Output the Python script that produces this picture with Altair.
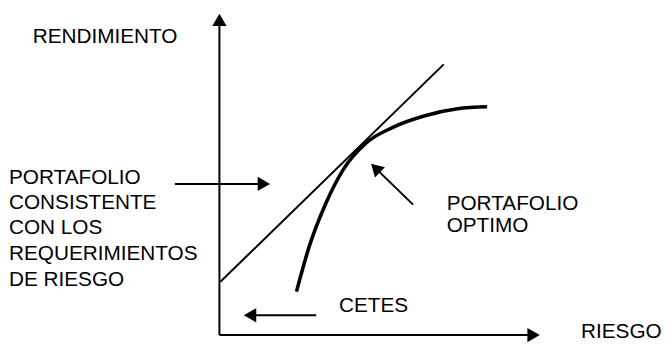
import altair as alt
import pandas as pd

# ---- data (units: risk on x, return on y; origin at the axes corner) ----
axis_x_risk = [0, 314]
axis_x_ret = [0, 0]
axis_y_risk = [0, 0]
axis_y_ret = [0, 314]

cml_risk = [1, 227]
cml_ret = [54, 274]

front_risk = [78, 91, 108, 125, 148, 175, 208, 241, 271]
front_ret = [44, 90, 134, 167, 194, 210, 222, 229, 231]

arrow_names = ["consistente", "cetes", "optimo"]
arrow_tail_risk = [-45, 98, 196]
arrow_tail_ret = [153, 20, 132]
arrow_end_risk = [46, 30, 158]
arrow_end_ret = [153, 20, 169]

head_risk = [0, 318, 45, 31, 158]
head_ret = [319, 0, 153, 20, 169]
head_shape = ["triangle-up", "triangle-right", "triangle-right", "triangle-left", "triangle-up"]
head_angle = [0, 0, 0, 0, 314]

label_text = ["RENDIMIENTO", "PORTAFOLIO", "CONSISTENTE", "CON LOS",
              "REQUERIMIENTOS", "DE RIESGO", "PORTAFOLIO", "OPTIMO",
              "CETES", "RIESGO"]
label_risk = [-189, -213, -213, -213, -213, -213, 230, 230, 121, 366]
label_ret = [302, 159, 133.5, 108, 82, 56, 133, 110, 29, 3]

X = alt.Scale(domain=[-214, 450], nice=False, zero=False)
Y = alt.Scale(domain=[-7, 329], nice=False, zero=False)


def seg(xs, ys, width):
    df = pd.DataFrame({"x": xs, "y": ys, "o": list(range(len(xs)))})
    return alt.Chart(df).mark_line(color="black", strokeWidth=width).encode(
        x=alt.X("x:Q", scale=X, axis=None),
        y=alt.Y("y:Q", scale=Y, axis=None),
        order="o:Q",
    )


xaxis = seg(axis_x_risk, axis_x_ret, 2)
yaxis = seg(axis_y_risk, axis_y_ret, 2)
cml = seg(cml_risk, cml_ret, 2)

front_df = pd.DataFrame({"x": front_risk, "y": front_ret})
front = alt.Chart(front_df).mark_line(color="black", strokeWidth=3.6, interpolate="monotone").encode(
    x=alt.X("x:Q", scale=X, axis=None),
    y=alt.Y("y:Q", scale=Y, axis=None),
)

arr_df = pd.DataFrame({"name": arrow_names, "x": arrow_tail_risk, "y": arrow_tail_ret,
                       "x2": arrow_end_risk, "y2": arrow_end_ret})
arrows = alt.Chart(arr_df).mark_rule(color="black", strokeWidth=2).encode(
    x=alt.X("x:Q", scale=X, axis=None),
    y=alt.Y("y:Q", scale=Y, axis=None),
    x2="x2:Q",
    y2="y2:Q",
)

head_df = pd.DataFrame({"x": head_risk, "y": head_ret, "shape": head_shape, "angle": head_angle})
heads = alt.Chart(head_df).mark_point(filled=True, color="black", opacity=1, size=210).encode(
    x=alt.X("x:Q", scale=X, axis=None),
    y=alt.Y("y:Q", scale=Y, axis=None),
    shape=alt.Shape("shape:N", scale=None, legend=None),
    angle=alt.Angle("angle:Q", scale=None),
)

lab_df = pd.DataFrame({"t": label_text, "x": label_risk, "y": label_ret})
labels = alt.Chart(lab_df).mark_text(align="left", baseline="middle", font="Liberation Sans",
                                     fontSize=21, color="black").encode(
    x=alt.X("x:Q", scale=X, axis=None),
    y=alt.Y("y:Q", scale=Y, axis=None),
    text="t:N",
)

chart = alt.layer(xaxis, yaxis, cml, front, arrows, heads, labels).properties(
    width=664, height=336, padding=0, autosize=alt.AutoSizeParams(type="none"),
    background="white",
).configure_view(stroke=None)

chart.save("out.html", embed_options={"renderer": "svg", "actions": False})
